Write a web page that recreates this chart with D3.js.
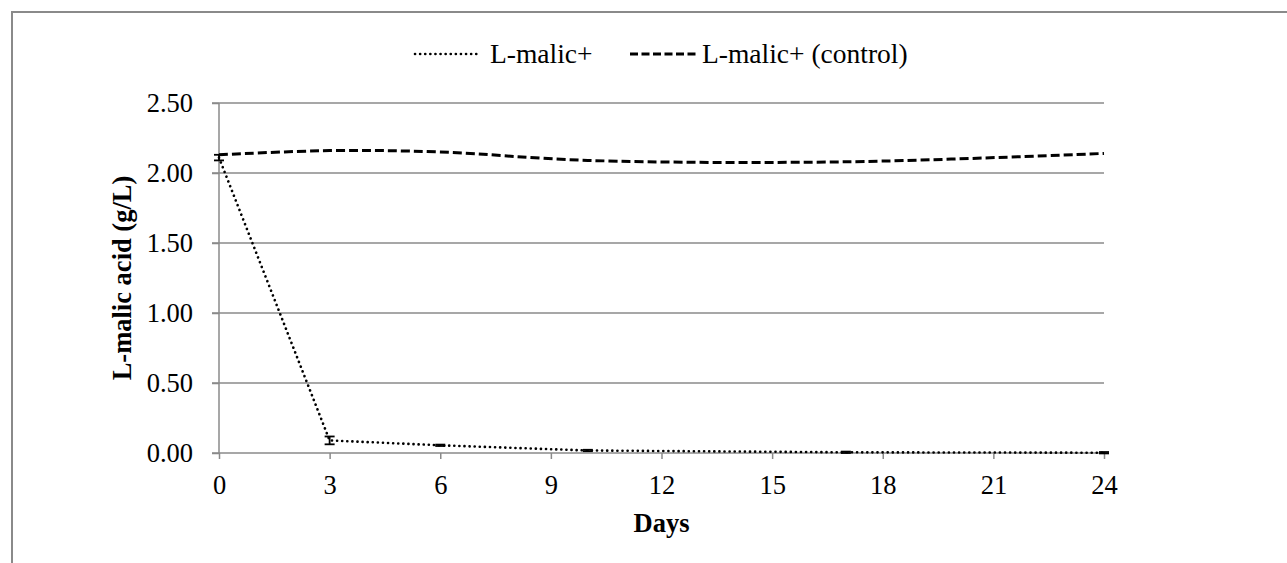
<!DOCTYPE html>
<html>
<head>
<meta charset="utf-8">
<script src="https://cdn.jsdelivr.net/npm/d3@7"></script>
<style>
  body { margin: 0; background: #fff; }
  svg text { font-family: "Liberation Serif", "Times New Roman", serif; fill: #000; }
</style>
</head>
<body>
<svg id="chart" width="1287" height="563"></svg>
<script>
// data
const days = [0, 3, 6, 10, 17, 24];
const malic = [2.11, 0.09, 0.055, 0.018, 0.005, 0.002];
const malicErr = [0.02, 0.028, 0.005, 0.005, 0.005, 0.005];
const control = [2.13, 2.16, 2.15, 2.09, 2.08, 2.14];
const xTicks = [0, 3, 6, 9, 12, 15, 18, 21, 24];
const yTicks = [0, 0.5, 1, 1.5, 2, 2.5];

const MARGIN = { left: 219, top: 103, right: 1104, bottom: 453 };
const GRID = '#8a8a8a';
const FONT = 26.5;

const svg = d3.select('#chart');

// outer chart frame (clipped at right and bottom like the original)
svg.append('rect')
  .attr('x', 12).attr('y', 12)
  .attr('width', 1300).attr('height', 600)
  .attr('fill', 'none').attr('stroke', GRID).attr('stroke-width', 2);

const x = d3.scaleLinear().domain([0, 24]).range([MARGIN.left, MARGIN.right]);
const y = d3.scaleLinear().domain([0, 2.5]).range([MARGIN.bottom, MARGIN.top]);

// horizontal gridlines
svg.append('g')
  .selectAll('line')
  .data(yTicks.filter(d => d > 0))
  .enter().append('line')
  .attr('x1', MARGIN.left - 7).attr('x2', MARGIN.right)
  .attr('y1', d => y(d)).attr('y2', d => y(d))
  .attr('stroke', GRID).attr('stroke-width', 1.5);

// y axis
const yAxis = svg.append('g')
  .attr('transform', 'translate(' + MARGIN.left + ',0)')
  .call(d3.axisLeft(y).tickValues(yTicks).tickFormat(d3.format('.2f')).tickSize(7).tickPadding(19));

// x axis
const xAxis = svg.append('g')
  .attr('transform', 'translate(0,' + MARGIN.bottom + ')')
  .call(d3.axisBottom(x).tickValues(xTicks).tickSize(6));

[yAxis, xAxis].forEach(a => {
  a.attr('font-family', null).attr('font-size', null);
  a.select('.domain').attr('stroke', GRID).attr('stroke-width', 1.5);
  a.selectAll('.tick line').attr('stroke', GRID).attr('stroke-width', 1.5);
  a.selectAll('.tick text').attr('font-size', FONT).attr('fill', '#000');
});
yAxis.selectAll('.tick text').attr('dy', '0.33em');
xAxis.selectAll('.tick text').attr('y', 41).attr('dy', 0);
xAxis.select('.domain').attr('d', 'M' + (MARGIN.left - 7) + ',0H' + MARGIN.right);
yAxis.select('.domain').attr('d', 'M0,' + MARGIN.top + 'V' + MARGIN.bottom);

// axis titles
svg.append('text')
  .attr('x', (MARGIN.left + MARGIN.right) / 2).attr('y', 532)
  .attr('text-anchor', 'middle')
  .attr('font-size', FONT).attr('font-weight', 'bold')
  .text('Days');

svg.append('text')
  .attr('transform', 'translate(131,' + (MARGIN.top + MARGIN.bottom) / 2 + ') rotate(-90)')
  .attr('text-anchor', 'middle')
  .attr('font-size', FONT).attr('font-weight', 'bold')
  .text('L-malic acid (g/L)');

// control series (smoothed, dashed)
const controlLine = d3.line()
  .x((d, i) => x(days[i]))
  .y(d => y(d))
  .curve(d3.curveCatmullRom.alpha(0.5));

svg.append('path')
  .datum(control)
  .attr('d', controlLine)
  .attr('fill', 'none').attr('stroke', '#000')
  .attr('stroke-width', 3)
  .attr('stroke-dasharray', '9,4');

// L-malic+ series (dotted)
const malicLine = d3.line()
  .x((d, i) => x(days[i]))
  .y(d => y(d));

svg.append('path')
  .datum(malic)
  .attr('d', malicLine)
  .attr('fill', 'none').attr('stroke', '#000')
  .attr('stroke-width', 2.6)
  .attr('stroke-linecap', 'round')
  .attr('stroke-dasharray', '0.1,5');

// error bars
const eb = svg.append('g').attr('stroke', '#000').attr('stroke-width', 1.8);
malic.forEach((v, i) => {
  const cx = x(days[i]);
  const e = malicErr[i];
  eb.append('line').attr('x1', cx).attr('x2', cx).attr('y1', y(v - e)).attr('y2', y(v + e));
  [v - e, v + e].forEach(t => {
    eb.append('line').attr('x1', cx - 5).attr('x2', cx + 5).attr('y1', y(t)).attr('y2', y(t));
  });
});

// legend
const legend = svg.append('g');
legend.append('line')
  .attr('x1', 415).attr('x2', 481).attr('y1', 54).attr('y2', 54)
  .attr('stroke', '#000').attr('stroke-width', 2.6)
  .attr('stroke-linecap', 'round').attr('stroke-dasharray', '0.1,5');
legend.append('text').attr('x', 490).attr('y', 63).attr('font-size', 27.5).text('L-malic+');
legend.append('line')
  .attr('x1', 630).attr('x2', 698).attr('y1', 54).attr('y2', 54)
  .attr('stroke', '#000').attr('stroke-width', 3)
  .attr('stroke-dasharray', '8,3.5');
legend.append('text').attr('x', 702).attr('y', 63).attr('font-size', 27.5).text('L-malic+ (control)');
</script>
</body>
</html>
